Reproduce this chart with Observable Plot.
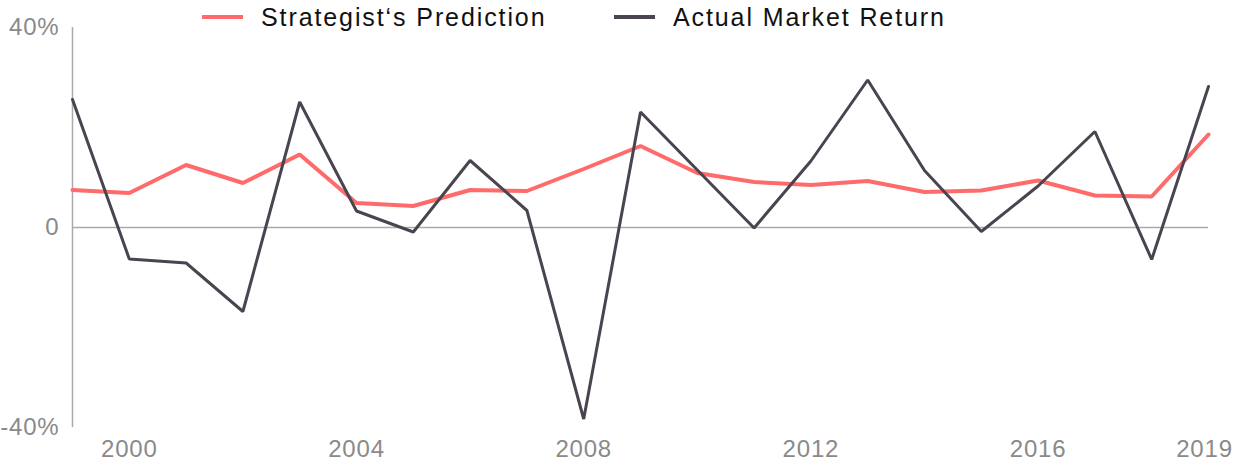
<!DOCTYPE html>
<html>
<head>
<meta charset="utf-8">
<script src="https://cdn.jsdelivr.net/npm/d3@7"></script>
<script src="https://cdn.jsdelivr.net/npm/@observablehq/plot@0.6"></script>
<style>
  html, body { margin: 0; padding: 0; background: #fff; }
  #wrap { position: relative; width: 1234px; height: 462px; font-family: "Liberation Sans", Arial, sans-serif; }
  .legend { position: absolute; top: 2px; left: 0; height: 30px; display: flex; align-items: center; font-size: 25px; letter-spacing: 1.9px; color: #111; }
  .item { position: absolute; display: flex; align-items: center; white-space: nowrap; }
  .sw { width: 41px; height: 4px; margin-right: 18px; }
  #chart { position: absolute; top: 0; left: 0; }
  #chart svg g[aria-label$="tick label"] text { letter-spacing: 0.8px; }
</style>
</head>
<body>
<div id="wrap">
  <div id="chart"></div>
  <div class="legend">
    <div class="item" style="left:202px"><span class="sw" style="background:#ff6b6b"></span><span>Strategist‘s Prediction</span></div>
    <div class="item" style="left:614px"><span class="sw" style="background:#4b4550"></span><span>Actual Market Return</span></div>
  </div>
</div>
<script>
const years = [1999,2000,2001,2002,2003,2004,2005,2006,2007,2008,2009,2010,2011,2012,2013,2014,2015,2016,2017,2018,2019];
const prediction = [7.5,6.9,12.5,8.9,14.6,4.9,4.3,7.5,7.3,11.7,16.3,10.9,9.1,8.5,9.3,7.1,7.4,9.4,6.4,6.2,18.6];
const actual = [25.6,-6.3,-7.1,-16.8,25.1,3.3,-0.9,13.4,3.4,-38.3,23.1,11.5,-0.1,13.3,29.5,11.4,-0.8,8.3,19.2,-6.4,28.2];
const xTicks = [2000,2004,2008,2012,2016,2019];
const yTicks = [-40,0,40];
const yTickLabels = ["-40%","0","40%"];
const seriesNames = ["Strategist‘s Prediction","Actual Market Return"];

const predData = years.map((y,i) => ({year: y, value: prediction[i]}));
const actData = years.map((y,i) => ({year: y, value: actual[i]}));
const lastTick = xTicks[xTicks.length - 1];

const chart = Plot.plot({
  width: 1234,
  height: 462,
  marginLeft: 72,
  marginRight: 26,
  marginTop: 27,
  marginBottom: 35,
  style: {fontFamily: "Liberation Sans, Arial, sans-serif", fontSize: "24px", background: "transparent"},
  x: {domain: [1999, 2019], label: null},
  y: {domain: [-40, 40], label: null},
  marks: [
    Plot.axisX({ticks: xTicks.slice(0, -1), tickFormat: d => String(d), tickSize: 0, tickPadding: 12, color: "#8a8a8a", label: null, fontSize: 24}),
    Plot.axisX({ticks: [lastTick], tickFormat: d => String(d), tickSize: 0, tickPadding: 12, color: "#8a8a8a", label: null, fontSize: 24, dx: -4}),
    Plot.axisY({ticks: yTicks, tickFormat: d => yTickLabels[yTicks.indexOf(d)], tickSize: 0, tickPadding: 13, color: "#8a8a8a", label: null, fontSize: 24}),
    Plot.ruleX([1999], {stroke: "#aaaaaa", strokeWidth: 1.5}),
    Plot.ruleY([0], {stroke: "#aaaaaa", strokeWidth: 1.5}),
    Plot.line(predData, {x: "year", y: "value", stroke: "#ff6b6b", strokeWidth: 4, strokeLinejoin: "miter"}),
    Plot.line(actData, {x: "year", y: "value", stroke: "#4a4450", strokeWidth: 3, strokeLinejoin: "miter"})
  ]
});
document.getElementById("chart").appendChild(chart);
</script>
</body>
</html>
